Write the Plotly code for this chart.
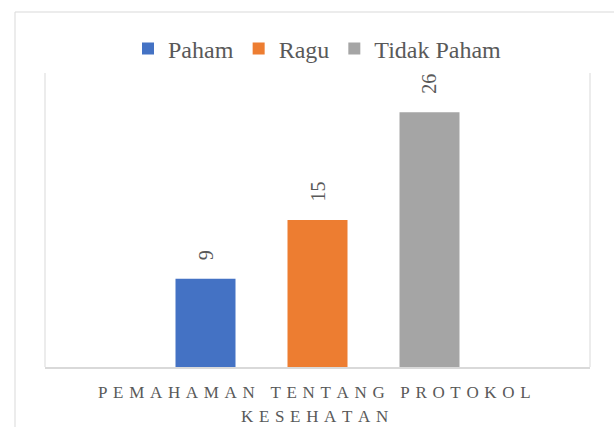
import plotly.graph_objects as go

# ─── data ────────────────────────────────────────────────────────────────────
CATEGORY = "PEMAHAMAN TENTANG PROTOKOL KESEHATAN"
SERIES   = ["Paham", "Ragu", "Tidak Paham"]
VALUES   = [9, 15, 26]
COLORS   = ["#4472C4", "#ED7D31", "#A5A5A5"]

FONT  = "'Liberation Serif', 'Times New Roman', serif"
GREY  = "#595959"
LINE  = "#D9D9D9"

# plot area in px: x 45..590, y 73..367 (canvas 614x427)
W, H = 614, 427
L, R, T, B = 45, 24, 73, 60
SLOT = 112  # px between bar centres


def spaced(text):
    """imitate Excel's character spacing"""
    ls = "\u2004"
    return (ls + " " + ls).join(ls.join(word) for word in text.split())


fig = go.Figure()
for name, val, col in zip(SERIES, VALUES, COLORS):
    fig.add_trace(go.Bar(
        x=[CATEGORY], y=[val], name=name,
        marker=dict(color=col, line=dict(width=0)),
        hoverinfo="skip",
    ))

# data labels (rotated, above bars)
for i, val in enumerate(VALUES):
    fig.add_annotation(
        x=CATEGORY, y=val, xref="x", yref="y",
        text=str(val), textangle=-90, showarrow=False,
        xshift=(i - 1) * SLOT, yshift=16, yanchor="bottom",
        font=dict(family=FONT, size=20, color=GREY),
    )

# category label, two lines
words = CATEGORY.split()
for line, ypos in [(" ".join(words[:3]), -0.088), (" ".join(words[3:]), -0.170)]:
    fig.add_annotation(
        x=0.495, y=ypos, xref="paper", yref="paper",
        text=spaced(line), showarrow=False, yanchor="middle",
        font=dict(family=FONT, size=17, color=GREY),
    )

# chart border + category gridlines at the plot edges
fig.add_shape(type="rect", xref="paper", yref="paper",
              x0=(15 - L) / (W - L - R), x1=1.3, y0=-0.6, y1=(H - B - 12) / (H - T - B),
              line=dict(color=LINE, width=1), fillcolor="rgba(0,0,0,0)", layer="below")
for xp in [0, 1]:
    fig.add_shape(type="line", xref="paper", yref="paper",
                  x0=xp, x1=xp, y0=0, y1=1, line=dict(color=LINE, width=1))

fig.update_layout(
    width=W, height=H,
    margin=dict(l=L, r=R, t=T, b=B),
    paper_bgcolor="white", plot_bgcolor="white",
    barmode="group", bargap=1 - 3 * SLOT / (W - L - R), bargroupgap=1 - 60 / SLOT,
    showlegend=True,
    legend=dict(
        orientation="h", x=0.5, xanchor="center", y=(H - B - 49) / (H - T - B),
        yanchor="middle", font=dict(family=FONT, size=24, color=GREY),
        itemwidth=30,
    ),
    font=dict(family=FONT, color=GREY),
)
fig.update_xaxes(showticklabels=False, ticks="", showgrid=False, zeroline=False,
                 showline=True, linecolor=LINE, linewidth=2)
fig.update_yaxes(range=[0, 30], visible=False)

# page has a default 8px body margin; drop it so the figure fills the window
fig.write_html("out.html", config={"displayModeBar": False},
               post_script="document.body.style.margin='0';")
